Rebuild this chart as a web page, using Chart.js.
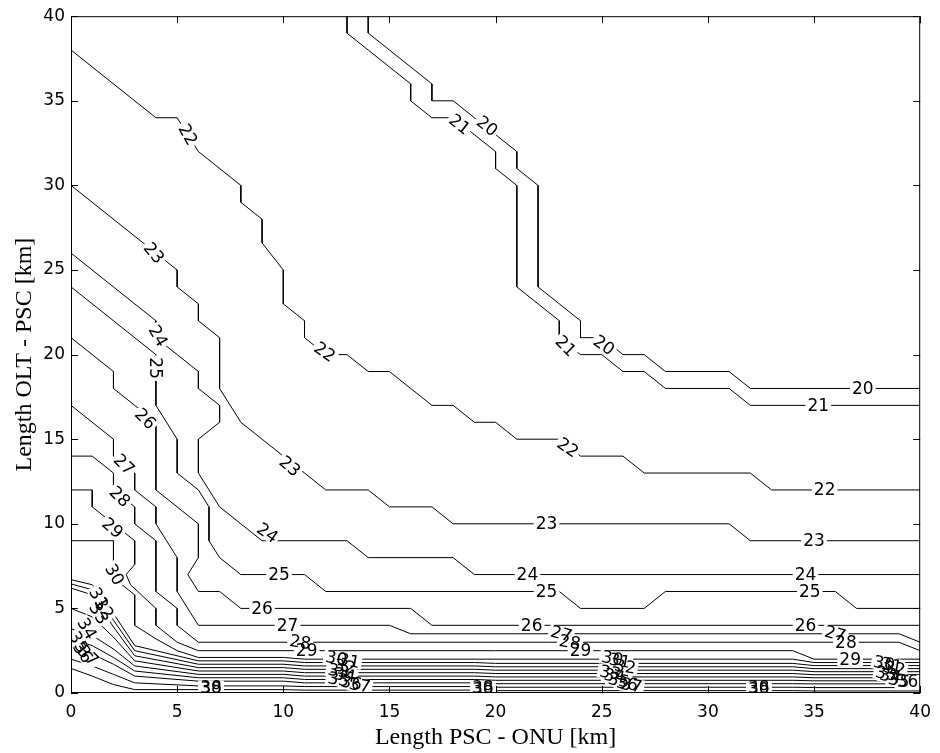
<!DOCTYPE html>
<html>
<head>
<meta charset="utf-8">
<script src="https://cdn.jsdelivr.net/npm/chart.js@4.4.0/dist/chart.umd.min.js"></script>
<style>
  html, body { margin: 0; padding: 0; background: #fff; }
</style>
</head>
<body>
<canvas id="chart" width="940" height="753"></canvas>
<script>
// contour levels and their traced paths [x, y]
const levels = [20, 21, 22, 23, 24, 25, 26, 27, 28, 29, 30, 31, 32, 33, 34, 35, 36, 37, 38, 39];

const c20 = [[14,40],[14,39],[15,38],[16,37],[17,36],[17,35],[18,35],[19,34],[20,33],[21,32],[21,31],[22,30],[22,24],[23,23],[24,22],[24,21],[25,21],[26,20],[27,20],[28,19],[31,19],[32,18],[40,18]];
const c21 = [[13,40],[13,39],[14,38],[15,37],[16,36],[16,35],[17,34],[18,34],[19,33],[20,32],[20,31],[21,30],[21,24],[22,23],[23,22],[23,21],[24,20],[25,20],[26,19],[27,19],[28,18],[31,18],[32,17],[40,17]];
const c22 = [[0,38],[4,34],[5,34],[6,32],[8,30],[8,29],[9,28],[9,26.6],[10,25],[10,23],[11,22],[11,21],[12,20],[13,20],[14,19],[15,19],[16,18],[17,17],[18,17],[19,16],[20,16],[21,15],[23,15],[24,14],[26,14],[27,13],[32,13],[33,12],[40,12]];
const c23 = [[0,30],[4,26],[5,25],[5,24],[6,23],[6,22],[7,21],[7,18],[8,16],[9,15],[10,14],[11,13],[12,12],[14,12],[15,11],[17,11],[18,10],[31,10],[32,9],[40,9]];
const c24 = [[0,26],[4,22],[4,21],[5,20],[6,19],[6,18],[7,17],[7,16],[6,15],[6,13],[7,11],[8,10],[9,9],[13,9],[14,8],[18,8],[19,7],[40,7]];
const c25 = [[0,24],[4,20],[4,17],[5,15],[5,13],[6,12],[6.5,11],[6.5,9],[7,8],[8,7],[11,7],[12,6],[23,6],[24,5],[27,5],[28,6],[36,6],[37,5],[40,5]];
const c26 = [[0,21],[2,19],[2,18],[4,16],[4,12],[5,11],[6,10],[6,8],[5.5,7],[6,6],[7,6],[8,5],[16,5],[17,4],[40,4]];
const c27 = [[0,17],[2,15],[2,14],[3,13],[3,12],[4,11],[4,10],[5,8],[5,6],[6,4],[15,4],[16,3.5],[39,3.5],[40,3]];
const c28 = [[0,14],[1,14],[2,13],[2,12],[3,11],[3,10],[4,9],[4,6],[5,5],[5,4],[6,3],[39,3],[40,2.5]];
const c29 = [[0,12],[1,12],[1,11],[2,10],[3,9],[3,7.6],[2.6,7],[2.8,6.4],[4,5],[4,4],[5,3],[6,2.5],[34,2.5],[35,2],[40,2]];
const c30 = [[0,9],[2,9],[2,7.8],[2.3,6.5],[3,5.8],[3,4],[4,3.2],[5,2.5],[6,2.1],[10,2.1],[11,2],[34,2],[35,1.8],[40,1.8]];
const c31 = [[0,6.7],[1,6.4],[2,4.7],[3,2.8],[6,1.9],[10,1.9],[11,1.8],[19,1.8],[20,1.75],[34,1.75],[35,1.62],[40,1.62]];
const c32 = [[0,6.45],[1,6.1],[2,4.3],[3,2.5],[6,1.7],[10,1.7],[11,1.6],[19,1.6],[20,1.55],[34,1.55],[35,1.44],[40,1.44]];
const c33 = [[0,6.2],[1,5.8],[2,3.9],[3,2.2],[6,1.5],[10,1.5],[11,1.4],[19,1.4],[20,1.35],[34,1.35],[35,1.26],[40,1.26]];
const c34 = [[0,5.0],[1,4.5],[2,3.3],[3,1.9],[6,1.3],[10,1.3],[11,1.2],[19,1.2],[20,1.15],[34,1.15],[35,1.08],[40,1.08]];
const c35 = [[0,3.8],[1,3.4],[2,2.6],[3,1.6],[6,1.1],[10,1.1],[11,1.0],[19,1.0],[20,0.95],[34,0.95],[35,0.9],[40,0.9]];
const c36 = [[0,3.2],[1,2.8],[2,2.1],[3,1.3],[6,0.9],[10,0.9],[11,0.8],[19,0.8],[20,0.75],[34,0.75],[35,0.72],[40,0.72]];
const c37 = [[0,2.7],[1,2.3],[2,1.7],[3,1.0],[6,0.7],[10,0.7],[11,0.6],[19,0.6],[20,0.55],[34,0.55],[35,0.54],[40,0.54]];
const c38 = [[0,2.0],[1,1.6],[2,1.1],[3,0.6],[6,0.42],[10,0.42],[11,0.38],[19,0.38],[20,0.34],[34,0.34],[35,0.32],[40,0.32]];
const c39 = [[0,1.45],[1,1.0],[2,0.5],[3,0.2],[6,0.2],[10,0.2],[11,0.17],[19,0.17],[20,0.14],[34,0.14],[35,0.12],[40,0.12]];

const contours = [c20, c21, c22, c23, c24, c25, c26, c27, c28, c29, c30, c31, c32, c33, c34, c35, c36, c37, c38, c39];

const xTicks = [0, 5, 10, 15, 20, 25, 30, 35, 40];
const yTicks = [0, 5, 10, 15, 20, 25, 30, 35, 40];

// inline contour labels: text, x, y, rotation (deg)
const clabels = [
  ['20', 19.6, 33.5, 38], ['21', 18.3, 33.6, 38],
  ['22', 5.5, 33.0, 60], ['23', 3.9, 26.0, 50], ['24', 4.1, 21.1, 60], ['25', 4.0, 19.2, 90],
  ['26', 3.5, 16.2, 45], ['27', 2.5, 13.5, 45], ['28', 2.3, 11.6, 45], ['29', 1.95, 9.75, 40],
  ['30', 2.05, 7.0, 60],
  ['31', 1.3, 5.6, 60], ['32', 1.55, 5.0, 60], ['33', 1.3, 4.7, 60], ['34', 0.75, 3.8, 60],
  ['35', 0.35, 3.0, 60], ['36', 0.55, 2.4, 55], ['37', 0.8, 2.2, 45],
  ['22', 11.95, 20.15, 35], ['21', 23.3, 20.5, 45], ['20', 25.1, 20.55, 35],
  ['22', 23.4, 14.5, 35], ['23', 10.3, 13.4, 40], ['24', 9.25, 9.45, 35],
  ['20', 37.3, 18, 0], ['21', 35.2, 17, 0], ['22', 35.5, 12, 0],
  ['23', 22.4, 10, 0], ['23', 35.0, 9, 0],
  ['24', 21.5, 7, 0], ['24', 34.6, 7, 0],
  ['25', 9.8, 7, 0], ['25', 22.4, 6, 0], ['25', 34.8, 6, 0],
  ['26', 9.0, 5, 0], ['26', 21.7, 4, 0], ['26', 34.6, 4, 0],
  ['27', 10.2, 4, 0], ['27', 23.1, 3.5, 15], ['27', 36.0, 3.5, 15],
  ['28', 10.8, 3.0, 10], ['28', 23.5, 3.0, 10], ['28', 36.5, 3.0, 0],
  ['29', 11.1, 2.5, 0], ['29', 24.0, 2.5, 0], ['29', 36.7, 2.0, 0],
  ['30', 12.5, 2.05, 10], ['31', 13.1, 1.9, 10], ['32', 12.9, 1.55, 10], ['33', 12.6, 1.3, 10],
  ['34', 12.9, 1.05, 10], ['35', 12.6, 0.8, 10], ['36', 13.2, 0.6, 10], ['37', 13.6, 0.45, 10],
  ['30', 25.5, 2.05, 10], ['31', 25.85, 1.9, 10], ['32', 26.1, 1.55, 10], ['33', 25.4, 1.2, 10],
  ['34', 25.6, 1.0, 10], ['35', 25.8, 0.75, 10], ['36', 26.2, 0.55, 10], ['37', 26.4, 0.45, 10],
  ['30', 38.3, 1.75, 10], ['31', 38.65, 1.65, 10], ['32', 38.8, 1.45, 10], ['33', 38.4, 1.15, 10],
  ['34', 38.6, 1.0, 10], ['35', 39.0, 0.75, 10], ['36', 39.4, 0.65, 0],
  ['38', 6.6, 0.32, 0], ['39', 6.6, 0.25, 0],
  ['38', 19.4, 0.3, 0], ['39', 19.4, 0.22, 0],
  ['38', 32.4, 0.3, 0], ['39', 32.4, 0.22, 0]
];

const labelPlugin = {
  id: 'contourLabels',
  afterDatasetsDraw(chart) {
    const { ctx, chartArea: a, scales: { x, y } } = chart;
    ctx.save();
    ctx.beginPath();
    ctx.rect(a.left, a.top, a.right - a.left, a.bottom - a.top);
    ctx.clip();
    ctx.font = '17px "DejaVu Sans"';
    ctx.textAlign = 'center';
    ctx.textBaseline = 'middle';
    // white gaps first, then the text on top
    clabels.forEach(([t, lx, ly, rot]) => {
      ctx.save();
      ctx.translate(x.getPixelForValue(lx), y.getPixelForValue(ly));
      ctx.rotate(rot * Math.PI / 180);
      const w = ctx.measureText(t).width;
      ctx.fillStyle = '#fff';
      ctx.fillRect(-w / 2 - 2, -7, w + 4, 14);
      ctx.restore();
    });
    ctx.fillStyle = '#000';
    clabels.forEach(([t, lx, ly, rot]) => {
      ctx.save();
      ctx.translate(x.getPixelForValue(lx), y.getPixelForValue(ly));
      ctx.rotate(rot * Math.PI / 180);
      ctx.fillText(t, 0, 1);
      ctx.restore();
    });
    ctx.restore();
  },
  afterDraw(chart) {
    const { ctx, chartArea: a, scales: { x, y } } = chart;
    ctx.save();
    ctx.strokeStyle = '#000';
    ctx.lineWidth = 1;
    ctx.strokeRect(a.left + 0.5, a.top + 0.5, a.right - a.left - 1, a.bottom - a.top - 1);
    const tl = 7;
    ctx.beginPath();
    xTicks.forEach(v => {
      const px = Math.round(x.getPixelForValue(v)) + 0.5;
      ctx.moveTo(px, a.bottom); ctx.lineTo(px, a.bottom - tl);
      ctx.moveTo(px, a.top); ctx.lineTo(px, a.top + tl);
    });
    yTicks.forEach(v => {
      const py = Math.round(y.getPixelForValue(v)) + 0.5;
      ctx.moveTo(a.left, py); ctx.lineTo(a.left + tl, py);
      ctx.moveTo(a.right, py); ctx.lineTo(a.right - tl, py);
    });
    ctx.stroke();
    ctx.restore();
  }
};

new Chart(document.getElementById('chart'), {
  type: 'scatter',
  data: {
    datasets: contours.map((pts, i) => ({
      label: String(levels[i]),
      data: pts.map(p => ({ x: p[0], y: p[1] })),
      showLine: true,
      borderColor: '#000',
      borderWidth: 1,
      pointRadius: 0,
      tension: 0,
      fill: false
    }))
  },
  options: {
    responsive: false,
    animation: false,
    devicePixelRatio: 1,
    layout: { padding: { top: 16, right: 9, left: 0, bottom: 0 } },
    plugins: { legend: { display: false }, tooltip: { enabled: false } },
    scales: {
      x: {
        type: 'linear', min: 0, max: 40,
        afterBuildTicks: s => { s.ticks = xTicks.map(v => ({ value: v })); },
        afterFit: s => { s.height = 60; },
        grid: { display: false, drawTicks: false },
        border: { display: false },
        ticks: { color: '#000', font: { family: 'DejaVu Sans', size: 17 }, padding: 9, maxRotation: 0, autoSkip: false },
        title: { display: true, text: 'Length PSC - ONU [km]', color: '#000',
                 font: { family: 'Liberation Serif', size: 24 }, padding: { top: 0, bottom: 1 } }
      },
      y: {
        type: 'linear', min: 0, max: 40,
        afterBuildTicks: s => { s.ticks = yTicks.map(v => ({ value: v })); },
        afterFit: s => { s.width = 71; },
        grid: { display: false, drawTicks: false },
        border: { display: false },
        ticks: { color: '#000', font: { family: 'DejaVu Sans', size: 17 }, padding: 6, autoSkip: false },
        title: { display: true, text: 'Length OLT - PSC [km]', color: '#000',
                 font: { family: 'Liberation Serif', size: 24 }, padding: { top: 10, bottom: 0 } }
      }
    }
  },
  plugins: [labelPlugin]
});
</script>
</body>
</html>
